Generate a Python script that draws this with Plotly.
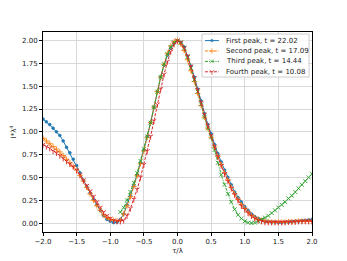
import plotly.graph_objects as go

# tau/lambda grid, step 0.05 from -2 to 2
tau = [round(-2 + 0.05 * i, 2) for i in range(81)]

first_peak = [
    1.14, 1.11, 1.08, 1.04, 1.00, 0.96, 0.90, 0.83, 0.77, 0.70,
    0.63, 0.55, 0.47, 0.40, 0.33, 0.26, 0.20, 0.14, 0.08, 0.04,
    0.02, 0.005, 0.01, 0.04, 0.10, 0.20, 0.30, 0.41, 0.53, 0.66,
    0.80, 0.95, 1.10, 1.27, 1.44, 1.60, 1.73, 1.84, 1.92, 1.97,
    2.00,
    1.98, 1.93, 1.83, 1.72, 1.60, 1.47, 1.34, 1.20, 1.08, 0.98,
    0.86, 0.76, 0.67, 0.58, 0.50, 0.42, 0.34, 0.28, 0.23, 0.18,
    0.14, 0.10, 0.07, 0.05, 0.035, 0.02, 0.015, 0.01, 0.01, 0.005,
    0.005, 0.01, 0.01, 0.015, 0.02, 0.02, 0.025, 0.03, 0.035, 0.04,
]

second_peak = [
    0.93, 0.90, 0.87, 0.84, 0.81, 0.78, 0.74, 0.70, 0.66, 0.62,
    0.58, 0.52, 0.46, 0.39, 0.32, 0.25, 0.19, 0.14, 0.09, 0.06,
    0.04, 0.03, 0.025, 0.03, 0.10, 0.19, 0.29, 0.40, 0.52, 0.65,
    0.79, 0.94, 1.10, 1.27, 1.44, 1.60, 1.74, 1.86, 1.94, 1.99,
    2.00,
    1.96, 1.89, 1.79, 1.67, 1.55, 1.42, 1.29, 1.16, 1.04, 0.94,
    0.83, 0.73, 0.64, 0.55, 0.47, 0.39, 0.32, 0.26, 0.20, 0.16,
    0.12, 0.08, 0.06, 0.04, 0.03, 0.02, 0.015, 0.01, 0.01, 0.01,
    0.01, 0.01, 0.015, 0.015, 0.015, 0.02, 0.02, 0.02, 0.02, 0.02,
]

# third peak only covers tau >= -0.85
third_tau = tau[23:]
third_peak = [
    0.12, 0.17, 0.25, 0.34, 0.44, 0.55, 0.68,
    0.81, 0.95, 1.10, 1.27, 1.44, 1.60, 1.74, 1.85, 1.93, 1.98,
    2.00,
    1.98, 1.92, 1.82, 1.70, 1.57, 1.44, 1.30, 1.16, 1.04, 0.94,
    0.80, 0.66, 0.53, 0.42, 0.32, 0.23, 0.15, 0.09, 0.05, 0.02,
    0.005, 0.0, 0.005, 0.02, 0.04, 0.06, 0.08, 0.11, 0.14, 0.17,
    0.20, 0.23, 0.27, 0.30, 0.34, 0.38, 0.42, 0.46, 0.50, 0.54,
]

fourth_peak = [
    0.86, 0.84, 0.82, 0.79, 0.77, 0.74, 0.71, 0.68, 0.65, 0.62,
    0.58, 0.53, 0.47, 0.41, 0.35, 0.29, 0.23, 0.17, 0.12, 0.08,
    0.05, 0.03, 0.02, 0.02, 0.03, 0.08, 0.16, 0.26, 0.37, 0.50,
    0.64, 0.79, 0.95, 1.12, 1.30, 1.47, 1.63, 1.77, 1.88, 1.96,
    2.00,
    1.98, 1.92, 1.83, 1.72, 1.59, 1.46, 1.32, 1.19, 1.07, 0.96,
    0.84, 0.73, 0.63, 0.54, 0.46, 0.38, 0.31, 0.25, 0.19, 0.15,
    0.11, 0.08, 0.05, 0.03, 0.02, 0.01, 0.01, 0.01, 0.01, 0.01,
    0.01, 0.01, 0.015, 0.015, 0.015, 0.02, 0.02, 0.02, 0.02, 0.02,
]

series = [
    ("First peak, t = 22.02", tau, first_peak, "#1f77b4", "solid", "circle", 2.6),
    ("Second peak, t = 17.09", tau, second_peak, "#ff7f0e", "3px,1.5px", "cross-thin-open", 4),
    ("Third peak, t = 14.44", third_tau, third_peak, "#2ca02c", "3px,1.2px,1px,1.2px", "x-thin-open", 4),
    ("Fourth peak, t = 10.08", tau, fourth_peak, "#d62728", "3px,1.5px", "y-down-open", 4),
]

fig = go.Figure()
for name, xs, ys, color, dash, symbol, size in series:
    fig.add_trace(go.Scatter(
        x=xs, y=ys, name=name, mode="lines+markers", showlegend=False,
        line=dict(color=color, width=1, dash=dash),
        marker=dict(symbol=symbol, size=size, color=color,
                    line=dict(color=color, width=0.9)),
    ))

# hand-drawn compact legend on an overlay axis (0..1 over the plot area)
leg_x0, leg_x1, leg_y0, leg_y1 = 0.591, 0.989, 0.775, 0.99
fig.add_trace(go.Scatter(
    x=[leg_x0, leg_x1, leg_x1, leg_x0, leg_x0], y=[leg_y0, leg_y0, leg_y1, leg_y1, leg_y0],
    xaxis="x2", yaxis="y2", mode="lines", fill="toself",
    fillcolor="rgba(255,255,255,0.85)", line=dict(color="#cccccc", width=1),
    showlegend=False, hoverinfo="skip",
))
row_y = [0.957, 0.905, 0.853, 0.801]
for (name, xs, ys, color, dash, symbol, size), ry in zip(series, row_y):
    fig.add_trace(go.Scatter(
        x=[0.602, 0.628, 0.654], y=[ry, ry, ry], xaxis="x2", yaxis="y2",
        mode="lines+markers", showlegend=False, hoverinfo="skip",
        line=dict(color=color, width=1, dash=dash),
        marker=dict(symbol=symbol, size=[0, size, 0], color=color,
                    line=dict(color=color, width=0.9)),
    ))
    fig.add_annotation(x=0.672, y=ry, xref="x2", yref="y2", text=name,
                       showarrow=False, xanchor="left", yanchor="middle",
                       font=dict(size=7, color="#222"))

axis_common = dict(
    showline=True, linecolor="black", linewidth=1, mirror=True,
    ticks="outside", ticklen=3, tickcolor="black",
    showgrid=True, gridcolor="#d9d9d9", gridwidth=1,
    zeroline=False, tickfont=dict(size=7, color="#222"), automargin=False,
)

# page body adds an 8px offset, so the figure is a bit smaller than the window
fig.update_layout(
    width=339, height=253,
    margin=dict(l=35, r=35, t=24, b=29),
    paper_bgcolor="white", plot_bgcolor="white",
    font=dict(family="DejaVu Sans", size=7, color="#222"),
    xaxis=dict(range=[-2, 2], tickvals=[-2, -1.5, -1, -0.5, 0, 0.5, 1, 1.5, 2],
               ticktext=["\u22122.0", "\u22121.5", "\u22121.0", "\u22120.5", "0.0",
                         "0.5", "1.0", "1.5", "2.0"],
               title=dict(text="\u03c4/\u03bb", font=dict(size=7), standoff=2),
               **axis_common),
    yaxis=dict(range=[-0.098, 2.094], tickvals=[0, 0.25, 0.5, 0.75, 1, 1.25, 1.5, 1.75, 2],
               ticktext=["0.00", "0.25", "0.50", "0.75", "1.00", "1.25", "1.50", "1.75", "2.00"],
               title=dict(text="I*\u03bb<sup>4</sup>", font=dict(size=7), standoff=4),
               **axis_common),
    xaxis2=dict(overlaying="x", range=[0, 1], visible=False, fixedrange=True),
    yaxis2=dict(overlaying="y", range=[0, 1], visible=False, fixedrange=True),
    showlegend=False,
)

fig.write_html("out.html")
